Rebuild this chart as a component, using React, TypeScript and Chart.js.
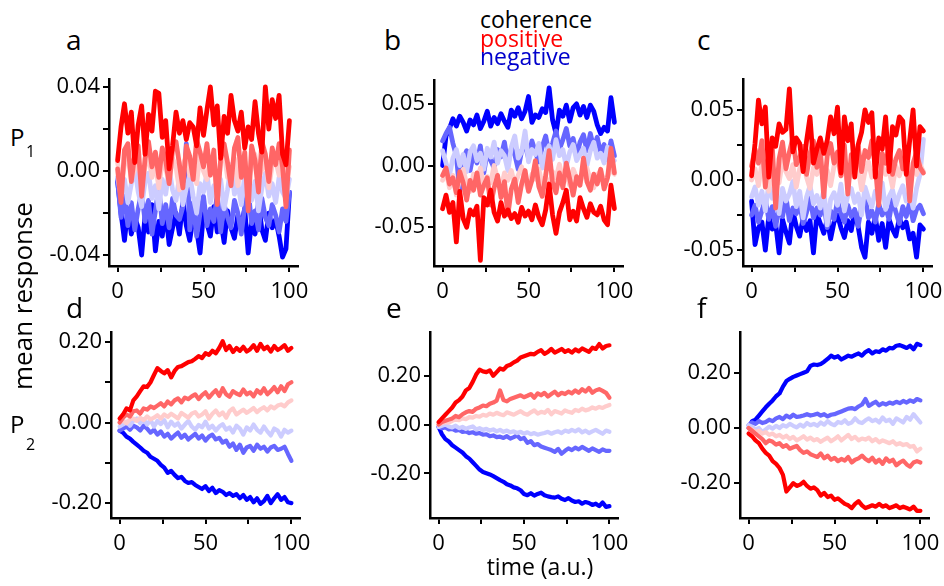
import React, { useEffect, useRef } from "react";
import { Chart, registerables } from "chart.js";
Chart.register(...registerables);

// ---------------- DATA ----------------
const timePoints = [0, 2, 4, 6, 8, 10, 12, 14, 16, 18, 20, 22, 24, 26, 28, 30, 32, 34, 36, 38, 40, 42, 44, 46, 48, 50, 52, 54, 56, 58, 60, 62, 64, 66, 68, 70, 72, 74, 76, 78, 80, 82, 84, 86, 88, 90, 92, 94, 96, 98, 100];

const xTickValues = [0, 25, 50, 75, 100];
const xTickLabels = ["0", "", "50", "", "100"];

const seriesLabels = ["negative strong", "negative medium", "negative weak", "positive weak", "positive medium", "positive strong"];
const seriesColors = ["#0000ff", "#6666ff", "#ccccff", "#ffcccc", "#ff6666", "#ff0000"];

// panel a
const aBlue = [
  -0.005, -0.020, -0.033, -0.018, -0.030, -0.022, -0.027, -0.040, -0.021, -0.029,
  -0.016, -0.038, -0.024, -0.031, -0.019, -0.035, -0.027, -0.020, -0.030, -0.014,
  -0.026, -0.033, -0.022, -0.028, -0.039, -0.020, -0.025, -0.031, -0.017, -0.029,
  -0.023, -0.034, -0.019, -0.027, -0.032, -0.021, -0.026, -0.018, -0.039, -0.024,
  -0.030, -0.015, -0.028, -0.033, -0.020, -0.027, -0.023, -0.031, -0.041, -0.037,
  -0.010];
const aMedBlue = [
  -0.004, -0.022, -0.012, -0.026, -0.015, -0.028, -0.018, -0.010, -0.024, -0.014,
  -0.030, -0.019, -0.008, -0.025, -0.016, -0.027, -0.013, -0.021, -0.023, -0.017,
  0.013, -0.028, -0.015, -0.031, -0.020, -0.012, -0.026, -0.018, -0.024, -0.011,
  -0.029, -0.016, -0.022, -0.027, -0.014, -0.020, -0.030, -0.017, -0.009, -0.025,
  -0.019, -0.028, -0.013, -0.022, -0.026, -0.016, -0.021, -0.029, -0.018, -0.024,
  -0.010];
const aLightBlue = [
  -0.003, -0.012, -0.004, -0.015, -0.006, 0.002, -0.010, -0.017, -0.005, -0.001,
  -0.013, -0.007, -0.018, -0.004, -0.011, 0.001, -0.009, -0.014, -0.003, -0.016,
  -0.008, -0.002, -0.012, -0.020, -0.006, -0.010, -0.001, -0.015, -0.007, -0.013,
  -0.004, -0.018, -0.009, 0.003, -0.011, -0.006, -0.016, -0.002, -0.010, -0.014,
  -0.005, -0.019, -0.008, -0.001, -0.012, -0.006, -0.015, -0.003, -0.010, -0.013,
  -0.004];
const aPink = [
  0.004, -0.006, 0.003, 0.007, -0.004, 0.001, 0.006, -0.007, 0.002, 0.008,
  -0.003, 0.004, -0.008, 0.005, 0.001, -0.005, 0.006, 0.002, -0.009, 0.003,
  0.007, -0.002, 0.004, -0.006, 0.008, 0.000, -0.004, 0.006, 0.002, -0.010,
  0.004, 0.009, -0.003, 0.001, 0.006, -0.007, 0.003, 0.005, -0.005, 0.002,
  0.008, -0.004, 0.001, 0.006, -0.008, 0.003, 0.005, -0.002, 0.007, -0.006,
  0.002];
const aSalmon = [
  0.001, -0.015, 0.010, 0.013, -0.005, 0.008, 0.012, -0.012, 0.006, 0.014,
  0.002, 0.009, -0.003, 0.011, 0.005, -0.006, 0.010, 0.014, 0.003, -0.008,
  0.012, 0.007, -0.004, 0.015, 0.009, 0.002, 0.013, -0.002, 0.010, -0.016,
  0.006, 0.013, 0.004, -0.007, 0.011, 0.016, -0.003, 0.009, -0.019, 0.012,
  0.005, -0.010, 0.014, 0.008, -0.005, 0.011, 0.003, 0.013, 0.002, -0.017,
  0.010];
const aRed = [
  0.005, 0.021, 0.032, 0.018, 0.028, 0.004, 0.022, 0.031, 0.008, 0.027,
  0.019, 0.038, 0.037, 0.016, 0.024, 0.001, 0.012, 0.028, 0.018, 0.024,
  0.015, 0.023, 0.021, 0.012, 0.030, 0.017, 0.029, 0.040, 0.022, 0.031,
  0.006, 0.026, 0.018, 0.036, 0.024, 0.019, 0.028, 0.011, 0.021, 0.015,
  0.033, 0.018, 0.009, 0.040, 0.020, 0.034, 0.025, 0.036, 0.008, 0.003,
  0.024];

// panel b
const bBlue = [
  0.000, 0.024, 0.030, 0.038, 0.032, 0.040, 0.035, 0.028, 0.037, 0.033,
  0.041, 0.030, 0.036, 0.044, 0.032, 0.039, 0.034, 0.042, 0.036, 0.031,
  0.045, 0.040, 0.047, 0.038, 0.044, 0.056, 0.035, 0.041, 0.039, 0.046,
  0.043, 0.063, 0.037, 0.026, 0.045, 0.040, 0.049, 0.036, 0.047, 0.050,
  0.041, 0.048, 0.039, 0.049, 0.044, 0.033, 0.026, 0.031, 0.028, 0.055,
  0.035];
const bMedBlue = [
  0.020, 0.026, 0.031, 0.018, 0.008, -0.021, 0.005, 0.012, -0.004, 0.010,
  0.002, 0.016, -0.006, 0.011, 0.004, -0.002, 0.013, 0.007, 0.019, 0.001,
  0.014, 0.009, -0.003, 0.012, 0.017, 0.006, 0.020, 0.011, 0.003, 0.015,
  0.024, 0.009, 0.018, 0.028, 0.013, 0.021, 0.030, 0.016, 0.022, 0.008,
  0.019, 0.025, 0.012, 0.026, 0.014, 0.023, 0.010, 0.017, 0.005, 0.020,
  0.008];
const bLightBlue = [
  0.012, 0.002, -0.008, 0.006, 0.013, 0.000, 0.009, -0.005, 0.011, 0.016,
  0.004, 0.010, -0.003, 0.014, 0.007, 0.019, 0.002, 0.012, 0.008, -0.004,
  0.015, 0.024, 0.006, 0.011, 0.028, 0.003, 0.013, 0.009, 0.018, -0.002,
  0.010, 0.016, 0.005, 0.021, 0.008, 0.013, -0.001, 0.011, 0.017, 0.004,
  0.009, 0.014, 0.000, 0.012, 0.019, 0.006, 0.010, 0.002, 0.015, 0.007,
  0.004];
const bPink = [
  -0.012, -0.004, -0.018, -0.008, -0.024, -0.010, -0.003, -0.015, -0.021, -0.007,
  -0.013, -0.002, -0.017, -0.009, -0.014, 0.000, -0.011, -0.019, -0.006, -0.012,
  -0.004, -0.016, -0.008, -0.001, -0.013, -0.020, -0.007, -0.011, -0.003, -0.015,
  -0.009, -0.018, -0.005, -0.010, 0.001, -0.012, -0.007, -0.016, -0.003, -0.010,
  -0.014, -0.006, -0.002, -0.012, -0.018, -0.008, -0.004, -0.013, -0.009, -0.003,
  -0.007];
const bSalmon = [
  -0.008, -0.002, -0.015, -0.010, -0.022, -0.005, -0.014, -0.028, -0.012, -0.020,
  -0.006, -0.024, -0.016, -0.010, -0.032, -0.018, -0.008, -0.026, -0.013, -0.040,
  -0.019, -0.011, -0.030, -0.015, -0.004, -0.021, -0.012, 0.004, -0.017, -0.025,
  -0.008, 0.012, -0.014, -0.022, -0.006, -0.018, 0.002, -0.011, -0.024, -0.009,
  -0.016, 0.006, -0.013, -0.020, -0.007, -0.015, -0.003, -0.019, -0.010, 0.014,
  -0.006];
const bRed = [
  -0.035, -0.024, -0.038, -0.030, -0.062, -0.021, -0.043, -0.050, -0.036, -0.040,
  -0.033, -0.077, -0.026, -0.032, -0.020, -0.038, -0.045, -0.030, -0.041, -0.036,
  -0.043, -0.039, -0.046, -0.034, -0.041, -0.037, -0.044, -0.032, -0.042, -0.048,
  -0.036, -0.015, -0.040, -0.055, -0.038, -0.030, -0.020, -0.044, -0.037, -0.045,
  -0.026, -0.035, -0.042, -0.031, -0.038, -0.040, -0.033, -0.044, -0.048, -0.016,
  -0.035];

// panel c
const cBlue = [
  -0.015, -0.046, -0.034, -0.030, -0.050, -0.026, -0.035, -0.031, -0.052, -0.028,
  -0.037, -0.045, -0.022, -0.033, -0.040, -0.027, -0.036, -0.029, -0.052, -0.024,
  -0.031, -0.038, -0.028, -0.042, -0.030, -0.025, -0.034, -0.041, -0.029, -0.036,
  -0.022, -0.033, -0.048, -0.055, -0.030, -0.038, -0.026, -0.043, -0.031, -0.048,
  -0.028, -0.035, -0.040, -0.027, -0.034, -0.030, -0.042, -0.038, -0.055, -0.032,
  -0.035];
const cMedBlue = [
  -0.025, -0.018, -0.030, -0.022, -0.014, -0.028, -0.019, -0.033, -0.021, -0.026,
  -0.012, -0.029, -0.020, -0.024, -0.017, -0.031, -0.023, -0.013, -0.027, -0.020,
  -0.025, -0.016, -0.034, -0.022, -0.028, -0.015, -0.024, -0.030, -0.018, -0.026,
  -0.021, -0.033, -0.019, -0.011, -0.027, -0.022, -0.030, -0.017, -0.025, -0.020,
  -0.028, -0.014, -0.023, -0.031, -0.019, -0.026, -0.016, -0.029, -0.021, -0.018,
  -0.024];
const cLightBlue = [
  -0.012, -0.005, -0.018, -0.008, -0.022, -0.003, -0.013, -0.009, -0.024, -0.006,
  -0.015, -0.010, -0.001, -0.019, -0.008, -0.027, -0.012, -0.004, -0.017, -0.011,
  -0.020, -0.007, -0.032, -0.014, -0.009, -0.018, -0.003, -0.022, -0.011, -0.006,
  -0.016, -0.010, -0.025, -0.005, -0.013, -0.019, -0.008, -0.015, -0.002, -0.021,
  -0.012, -0.007, -0.018, -0.010, -0.004, -0.015, -0.009, -0.020, -0.006, 0.004,
  0.029];
const cPink = [
  0.000, 0.008, -0.004, 0.012, 0.003, -0.008, 0.010, 0.005, -0.002, 0.014,
  0.006, 0.001, 0.011, -0.005, 0.008, 0.013, 0.002, -0.006, 0.009, 0.004,
  0.012, 0.000, 0.007, -0.004, 0.010, 0.015, 0.003, 0.008, -0.003, 0.011,
  0.005, 0.009, -0.007, 0.006, 0.013, 0.002, 0.008, -0.002, 0.011, 0.004,
  0.007, -0.005, 0.010, 0.003, 0.012, 0.006, -0.001, 0.009, 0.004, 0.011,
  0.006];
const cSalmon = [
  0.010, 0.022, 0.012, 0.028, -0.005, 0.018, 0.025, -0.020, 0.015, 0.027,
  0.008, 0.020, 0.030, 0.011, 0.016, 0.024, 0.004, 0.019, 0.028, 0.009,
  0.022, -0.012, 0.017, 0.026, 0.012, 0.020, 0.003, 0.025, -0.010, 0.018,
  0.014, 0.024, 0.006, 0.021, 0.016, 0.028, 0.010, -0.018, 0.019, 0.012,
  0.023, 0.004, 0.015, 0.021, 0.008, 0.018, -0.015, 0.012, 0.020, 0.009,
  0.005];
const cRed = [
  0.003, 0.026, 0.057, 0.040, 0.052, 0.002, 0.030, 0.024, 0.040, 0.034,
  0.036, 0.065, 0.020, 0.030, 0.026, 0.006, 0.028, 0.045, 0.012, 0.022,
  0.030, 0.019, 0.028, 0.045, 0.033, 0.052, 0.005, 0.045, 0.028, 0.040,
  0.002, 0.025, 0.034, 0.050, 0.041, 0.048, 0.002, 0.030, 0.022, 0.045,
  0.006, 0.038, 0.032, 0.045, 0.042, 0.004, 0.028, 0.050, 0.010, 0.038,
  0.035];

// panel d
const dBlue = [
  -0.020, -0.025, -0.035, -0.040, -0.048, -0.055, -0.062, -0.070, -0.075, -0.085,
  -0.090, -0.095, -0.105, -0.112, -0.125, -0.120, -0.130, -0.138, -0.135, -0.145,
  -0.150, -0.148, -0.155, -0.160, -0.165, -0.158, -0.170, -0.162, -0.175, -0.168,
  -0.172, -0.180, -0.175, -0.182, -0.178, -0.188, -0.180, -0.192, -0.185, -0.198,
  -0.188, -0.202, -0.195, -0.182, -0.200, -0.188, -0.178, -0.192, -0.185, -0.198,
  -0.200];
const dMedBlue = [
  -0.020, -0.015, -0.010, -0.018, -0.008, -0.012, -0.020, -0.008, -0.015, -0.025,
  -0.018, -0.030, -0.022, -0.035, -0.028, -0.040, -0.032, -0.025, -0.038, -0.030,
  -0.042, -0.035, -0.028, -0.040, -0.032, -0.045, -0.035, -0.030, -0.042, -0.038,
  -0.050, -0.045, -0.060, -0.052, -0.068, -0.055, -0.075, -0.062, -0.058, -0.070,
  -0.055, -0.065, -0.060, -0.072, -0.062, -0.058, -0.068, -0.065, -0.060, -0.078,
  -0.095];
const dLightBlue = [
  -0.010, -0.005, 0.002, -0.008, 0.005, 0.010, -0.002, 0.008, -0.005, 0.006,
  -0.010, 0.004, -0.004, 0.006, -0.012, 0.002, -0.008, -0.002, -0.015, -0.005,
  0.004, -0.010, -0.018, -0.006, -0.012, 0.002, -0.015, -0.008, -0.020, -0.010,
  -0.004, -0.018, -0.012, -0.025, -0.008, -0.015, -0.030, -0.012, -0.020, -0.005,
  -0.018, -0.025, -0.010, -0.022, -0.032, -0.015, -0.020, -0.035, -0.018, -0.025,
  -0.020];
const dPink = [
  0.000, 0.005, -0.002, 0.008, 0.010, 0.004, 0.012, 0.006, 0.015, 0.008,
  0.012, 0.018, 0.010, 0.020, 0.014, 0.022, 0.016, 0.010, 0.024, 0.018,
  0.012, 0.022, 0.026, 0.015, 0.020, 0.028, 0.010, 0.022, 0.030, 0.018,
  0.025, 0.012, 0.028, 0.035, 0.020, 0.026, 0.032, 0.024, 0.030, 0.036,
  0.026, 0.033, 0.038, 0.030, 0.040, 0.035, 0.042, 0.045, 0.040, 0.050,
  0.055];
const dSalmon = [
  0.000, 0.012, 0.020, 0.015, 0.028, 0.030, 0.022, 0.035, 0.032, 0.040,
  0.036, 0.042, 0.048, 0.040, 0.052, 0.045, 0.055, 0.060, 0.050, 0.062,
  0.058, 0.065, 0.070, 0.058, 0.068, 0.075, 0.062, 0.072, 0.080, 0.066,
  0.085, 0.070, 0.064, 0.078, 0.072, 0.068, 0.082, 0.070, 0.075, 0.065,
  0.080, 0.072, 0.085, 0.070, 0.078, 0.088, 0.075, 0.090, 0.078, 0.095,
  0.100];
const dRed = [
  0.010, 0.020, 0.035, 0.030, 0.055, 0.065, 0.078, 0.090, 0.088, 0.100,
  0.118, 0.135, 0.128, 0.122, 0.130, 0.112, 0.128, 0.138, 0.140, 0.145,
  0.150, 0.152, 0.158, 0.165, 0.160, 0.172, 0.168, 0.178, 0.172, 0.185,
  0.202, 0.180, 0.190, 0.175, 0.185, 0.178, 0.188, 0.176, 0.182, 0.192,
  0.178, 0.195, 0.182, 0.188, 0.176, 0.190, 0.180, 0.185, 0.192, 0.178,
  0.185];

// panel e
const eBlue = [
  -0.010, -0.040, -0.060, -0.070, -0.085, -0.095, -0.105, -0.115, -0.130, -0.140,
  -0.155, -0.170, -0.185, -0.195, -0.200, -0.205, -0.212, -0.220, -0.228, -0.235,
  -0.245, -0.250, -0.258, -0.262, -0.270, -0.285, -0.290, -0.282, -0.292, -0.285,
  -0.280, -0.290, -0.295, -0.298, -0.300, -0.295, -0.305, -0.310, -0.302, -0.312,
  -0.318, -0.315, -0.325, -0.318, -0.322, -0.330, -0.325, -0.335, -0.320, -0.338,
  -0.335];
const eMedBlue = [
  -0.010, -0.015, -0.012, -0.020, -0.018, -0.025, -0.022, -0.030, -0.028, -0.035,
  -0.032, -0.038, -0.035, -0.042, -0.040, -0.048, -0.045, -0.052, -0.050, -0.055,
  -0.048, -0.058, -0.052, -0.045, -0.060, -0.055, -0.075, -0.068, -0.085, -0.080,
  -0.090, -0.095, -0.100, -0.105, -0.112, -0.100, -0.120, -0.108, -0.098, -0.105,
  -0.095, -0.102, -0.092, -0.100, -0.108, -0.098, -0.105, -0.112, -0.102, -0.108,
  -0.108];
const eLightBlue = [
  -0.010, -0.005, 0.000, -0.008, -0.012, -0.005, -0.015, -0.010, -0.018, -0.012,
  -0.008, -0.020, -0.015, -0.022, -0.018, -0.025, -0.020, -0.028, -0.022, -0.030,
  -0.025, -0.032, -0.028, -0.035, -0.030, -0.038, -0.032, -0.040, -0.035, -0.042,
  -0.038, -0.035, -0.030, -0.038, -0.032, -0.028, -0.035, -0.025, -0.030, -0.022,
  -0.028, -0.020, -0.032, -0.025, -0.035, -0.028, -0.022, -0.030, -0.038, -0.025,
  -0.030];
const ePink = [
  0.000, 0.005, 0.010, 0.008, 0.015, 0.020, 0.018, 0.025, 0.022, 0.030,
  0.028, 0.035, 0.032, 0.040, 0.036, 0.045, 0.040, 0.048, 0.042, 0.038,
  0.050, 0.045, 0.040, 0.048, 0.055, 0.045, 0.040, 0.050, 0.058, 0.045,
  0.052, 0.048, 0.060, 0.042, 0.055, 0.050, 0.045, 0.058, 0.052, 0.048,
  0.060, 0.055, 0.065, 0.058, 0.062, 0.070, 0.065, 0.072, 0.068, 0.075,
  0.080];
const eSalmon = [
  0.000, 0.010, 0.015, 0.020, 0.025, 0.035, 0.030, 0.042, 0.050, 0.055,
  0.052, 0.065, 0.070, 0.078, 0.075, 0.085, 0.090, 0.098, 0.140, 0.100,
  0.095, 0.105, 0.110, 0.115, 0.120, 0.112, 0.118, 0.125, 0.110, 0.128,
  0.120, 0.130, 0.115, 0.125, 0.135, 0.120, 0.130, 0.125, 0.135, 0.128,
  0.140, 0.130, 0.145, 0.135, 0.150, 0.130, 0.140, 0.145, 0.138, 0.130,
  0.110];
const eRed = [
  0.010, 0.025, 0.040, 0.055, 0.070, 0.090, 0.100, 0.115, 0.140, 0.150,
  0.175, 0.205, 0.225, 0.218, 0.215, 0.222, 0.200, 0.215, 0.230, 0.225,
  0.240, 0.245, 0.255, 0.262, 0.275, 0.280, 0.285, 0.290, 0.288, 0.298,
  0.305, 0.290, 0.298, 0.310, 0.295, 0.302, 0.310, 0.298, 0.305, 0.295,
  0.308, 0.300, 0.312, 0.305, 0.298, 0.315, 0.310, 0.330, 0.312, 0.322,
  0.325];

// panel f
const fBlue = [
  0.000, 0.025, 0.030, 0.045, 0.060, 0.075, 0.088, 0.100, 0.115, 0.125,
  0.150, 0.170, 0.178, 0.185, 0.190, 0.195, 0.200, 0.205, 0.225, 0.230,
  0.228, 0.232, 0.240, 0.250, 0.262, 0.255, 0.260, 0.248, 0.255, 0.262,
  0.258, 0.265, 0.270, 0.262, 0.275, 0.282, 0.270, 0.278, 0.275, 0.285,
  0.280, 0.290, 0.288, 0.298, 0.300, 0.295, 0.290, 0.298, 0.285, 0.305,
  0.300];
const fMedBlue = [
  0.010, 0.020, 0.015, 0.025, 0.018, 0.022, 0.030, 0.025, 0.035, 0.040,
  0.032, 0.045, 0.038, 0.048, 0.040, 0.042, 0.045, 0.050, 0.045, 0.048,
  0.052, 0.045, 0.050, 0.042, 0.048, 0.050, 0.055, 0.060, 0.065, 0.070,
  0.072, 0.068, 0.078, 0.085, 0.105, 0.080, 0.088, 0.095, 0.082, 0.090,
  0.085, 0.092, 0.088, 0.095, 0.090, 0.098, 0.092, 0.100, 0.095, 0.105,
  0.100];
const fLightBlue = [
  0.010, 0.005, -0.005, 0.000, -0.015, -0.005, 0.005, -0.002, 0.008, 0.000,
  0.010, 0.005, 0.015, 0.008, 0.002, 0.012, 0.005, 0.018, 0.010, 0.015,
  0.008, 0.020, 0.012, 0.025, 0.015, 0.010, 0.022, 0.018, 0.028, 0.015,
  0.020, 0.035, 0.022, 0.018, 0.028, 0.035, 0.025, 0.030, 0.020, 0.038,
  0.025, 0.030, 0.015, 0.035, 0.028, 0.020, 0.040, 0.030, 0.050, 0.035,
  0.020];
const fPink = [
  0.000, -0.005, -0.015, -0.010, -0.020, -0.015, -0.025, -0.020, -0.030, -0.025,
  -0.035, -0.028, -0.040, -0.032, -0.045, -0.038, -0.030, -0.042, -0.035, -0.045,
  -0.040, -0.050, -0.042, -0.035, -0.048, -0.040, -0.030, -0.045, -0.035, -0.025,
  -0.040, -0.032, -0.045, -0.038, -0.042, -0.035, -0.048, -0.040, -0.052, -0.045,
  -0.050, -0.055, -0.048, -0.060, -0.055, -0.062, -0.058, -0.068, -0.065, -0.085,
  -0.075];
const fSalmon = [
  0.000, -0.010, -0.020, -0.030, -0.040, -0.055, -0.045, -0.050, -0.060, -0.055,
  -0.068, -0.062, -0.075, -0.070, -0.065, -0.080, -0.090, -0.085, -0.095, -0.100,
  -0.105, -0.092, -0.110, -0.100, -0.115, -0.108, -0.120, -0.112, -0.118, -0.105,
  -0.125, -0.115, -0.110, -0.100, -0.112, -0.120, -0.108, -0.125, -0.115, -0.130,
  -0.110, -0.122, -0.115, -0.135, -0.125, -0.118, -0.132, -0.140, -0.125, -0.120,
  -0.125];
const fRed = [
  -0.020, -0.030, -0.045, -0.055, -0.075, -0.090, -0.100, -0.120, -0.130, -0.145,
  -0.170, -0.230, -0.215, -0.200, -0.210, -0.205, -0.195, -0.210, -0.220, -0.215,
  -0.225, -0.245, -0.235, -0.250, -0.245, -0.260, -0.255, -0.265, -0.275, -0.280,
  -0.290, -0.275, -0.265, -0.280, -0.290, -0.285, -0.280, -0.285, -0.275, -0.285,
  -0.280, -0.290, -0.285, -0.280, -0.290, -0.285, -0.290, -0.295, -0.285, -0.300,
  -0.300];

// y ticks per panel
const yTicksA = [-0.04, -0.02, 0, 0.02, 0.04];
const yLabelsA = ["-0.04", "", "0.00", "", "0.04"];
const yTicksB = [-0.05, 0, 0.05];
const yLabelsB = ["-0.05", "0.00", "0.05"];
const yTicksC = [-0.05, -0.025, 0, 0.025, 0.05];
const yLabelsC = ["-0.05", "", "0.00", "", "0.05"];
const yTicksD = [-0.2, -0.1, 0, 0.1, 0.2];
const yLabelsD = ["-0.20", "", "0.00", "", "0.20"];
const yTicksE = [-0.2, 0, 0.2];
const yLabelsE = ["-0.20", "0.00", "0.20"];
const yTicksF = [-0.2, 0, 0.2];
const yLabelsF = ["-0.20", "0.00", "0.20"];

// ---------------- LAYOUT ----------------
const FONT = "'Open Sans', 'DejaVu Sans', sans-serif";
const YW = 75;
const XH = 42;
const PT = 20;
const PR = 28;

type PanelCfg = {
  series: number[][];
  yMin: number;
  yMax: number;
  yTicks: number[];
  yLabels: string[];
  area: { l: number; t: number; r: number; b: number };
  lw: number;
};

const panels: PanelCfg[] = [
  { series: [aBlue, aMedBlue, aLightBlue, aPink, aSalmon, aRed], yMin: -0.0452, yMax: 0.0438, yTicks: yTicksA, yLabels: yLabelsA, area: { l: 109, t: 79, r: 298, b: 266 }, lw: 4.8 },
  { series: [bBlue, bMedBlue, bLightBlue, bPink, bSalmon, bRed], yMin: -0.0815, yMax: 0.0694, yTicks: yTicksB, yLabels: yLabelsB, area: { l: 434, t: 80, r: 623, b: 266 }, lw: 4.8 },
  { series: [cBlue, cMedBlue, cLightBlue, cPink, cSalmon, cRed], yMin: -0.0613, yMax: 0.072, yTicks: yTicksC, yLabels: yLabelsC, area: { l: 743, t: 79, r: 932, b: 266 }, lw: 4.8 },
  { series: [dBlue, dMedBlue, dLightBlue, dPink, dSalmon, dRed], yMin: -0.237, yMax: 0.2247, yTicks: yTicksD, yLabels: yLabelsD, area: { l: 111, t: 332, r: 300, b: 518 }, lw: 4.2 },
  { series: [eBlue, eMedBlue, eLightBlue, ePink, eSalmon, eRed], yMin: -0.3837, yMax: 0.3796, yTicks: yTicksE, yLabels: yLabelsE, area: { l: 430, t: 332, r: 618, b: 518 }, lw: 4.2 },
  { series: [fBlue, fMedBlue, fLightBlue, fPink, fSalmon, fRed], yMin: -0.326, yMax: 0.3477, yTicks: yTicksF, yLabels: yLabelsF, area: { l: 740, t: 332, r: 929, b: 518 }, lw: 4.2 },
];

function PanelChart({ p }: { p: PanelCfg }) {
  const ref = useRef<HTMLCanvasElement>(null);
  const w = p.area.r - p.area.l + YW + PR;
  const h = p.area.b - p.area.t + PT + XH;
  useEffect(() => {
    const canvas = ref.current;
    if (!canvas) return;
    const tickFont = { family: FONT, size: 22 };
    const chart = new Chart(canvas, {
      type: "line",
      data: {
        datasets: p.series.map((s, i) => ({
          label: seriesLabels[i],
          data: s.map((v, j) => ({ x: timePoints[j], y: v })),
          borderColor: seriesColors[i],
          backgroundColor: seriesColors[i],
          borderWidth: p.lw,
          pointRadius: 0,
          pointHoverRadius: 0,
          tension: 0,
          fill: false,
          borderJoinStyle: "round",
          borderCapStyle: "round",
          order: p.series.length - 1 - i,
        })),
      },
      options: {
        animation: false,
        responsive: false,
        devicePixelRatio: 1,
        events: [],
        layout: { padding: { top: PT, right: PR, left: 0, bottom: 0 } },
        plugins: { legend: { display: false }, tooltip: { enabled: false } },
        scales: {
          x: {
            type: "linear",
            min: -5,
            max: 105,
            afterFit: (s: any) => { s.height = XH; },
            afterBuildTicks: (s: any) => { s.ticks = xTickValues.map((v) => ({ value: v })); },
            ticks: {
              callback: (_v: any, i: number) => xTickLabels[i],
              font: tickFont,
              color: "#000",
              padding: 7,
              maxRotation: 0,
              autoSkip: false,
            },
            grid: { display: true, drawOnChartArea: false, drawTicks: true, tickLength: 6, color: "#000", lineWidth: 2 },
            border: { display: true, color: "#000", width: 2.5 },
          },
          y: {
            type: "linear",
            min: p.yMin,
            max: p.yMax,
            afterFit: (s: any) => { s.width = YW; },
            afterBuildTicks: (s: any) => { s.ticks = p.yTicks.map((v) => ({ value: v })); },
            ticks: {
              callback: (_v: any, i: number) => p.yLabels[i],
              font: tickFont,
              color: "#000",
              padding: 3,
              autoSkip: false,
            },
            grid: { display: true, drawOnChartArea: false, drawTicks: true, tickLength: 6, color: "#000", lineWidth: 2 },
            border: { display: true, color: "#000", width: 2.5 },
          },
        },
      },
    } as any);
    return () => chart.destroy();
  }, []);
  return (
    <canvas
      ref={ref}
      width={w}
      height={h}
      style={{ position: "absolute", left: p.area.l - YW, top: p.area.t - PT, width: w, height: h, display: "block" }}
    />
  );
}

const txt = (extra: React.CSSProperties): React.CSSProperties => ({
  position: "absolute",
  fontFamily: FONT,
  lineHeight: 1,
  whiteSpace: "nowrap",
  color: "#000",
  ...extra,
});

export default function App() {
  return (
    <div style={{ position: "absolute", left: 0, top: 0, width: 944, height: 586, background: "#fff", overflow: "hidden" }}>
      {panels.map((p, i) => (
        <PanelChart key={i} p={p} />
      ))}
      {/* panel letters */}
      <div style={txt({ left: 66, top: 25, fontSize: 28 })}>a</div>
      <div style={txt({ left: 384, top: 25, fontSize: 28 })}>b</div>
      <div style={txt({ left: 697, top: 25, fontSize: 28 })}>c</div>
      <div style={txt({ left: 66, top: 293, fontSize: 28 })}>d</div>
      <div style={txt({ left: 386, top: 293, fontSize: 28 })}>e</div>
      <div style={txt({ left: 697, top: 293, fontSize: 28 })}>f</div>
      {/* legend */}
      <div style={txt({ left: 480, top: 8, fontSize: 23, color: "#000" })}>coherence</div>
      <div style={txt({ left: 480, top: 27, fontSize: 23, color: "#ff0000" })}>positive</div>
      <div style={txt({ left: 480, top: 45, fontSize: 23, color: "#0000cc" })}>negative</div>
      {/* row labels */}
      <div style={txt({ left: 10, top: 125, fontSize: 24 })}>P</div>
      <div style={txt({ left: 26, top: 143, fontSize: 16 })}>1</div>
      <div style={txt({ left: 10, top: 412, fontSize: 24 })}>P</div>
      <div style={txt({ left: 26, top: 436, fontSize: 16 })}>2</div>
      <div style={txt({ left: 22, top: 296, fontSize: 26, transform: "translate(-50%, -50%) rotate(-90deg)" })}>mean response</div>
      <div style={txt({ left: 540, top: 555, fontSize: 23, transform: "translateX(-50%)" })}>time (a.u.)</div>
    </div>
  );
}
